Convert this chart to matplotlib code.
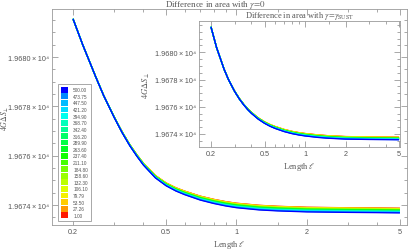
import numpy as np
import matplotlib
matplotlib.use('Agg')
import matplotlib.pyplot as plt
from matplotlib.patches import Patch
from matplotlib.ticker import FixedLocator, FuncFormatter, NullFormatter

# gamma values of the family (legend order: small -> large)
gamma_labels = ["1.00", "27.26", "53.50", "79.79", "106.10", "132.30", "158.60",
                "184.80", "211.10", "237.40", "263.60", "289.90", "316.20",
                "342.40", "368.70", "394.90", "421.20", "447.50", "473.75", "500.00"]
gamma_colors = ["#ff1a00", "#ff9900", "#ffcc00", "#f5f000", "#ddff00", "#bbff00",
                "#99ff00", "#77ff00", "#44ff00", "#11ff00", "#00ff22", "#00ff44",
                "#00ff66", "#00ff99", "#00ffbb", "#00ffee", "#00ddff", "#00bbff",
                "#0088ff", "#0000ff"]
# vertical offset of each curve above the gamma=500 one, at large length
gamma_offset = [0.19, 0.185, 0.175, 0.165, 0.155, 0.145, 0.135, 0.125, 0.115, 0.105,
                0.095, 0.085, 0.075, 0.065, 0.055, 0.045, 0.035, 0.025, 0.012, 0.0]

# length samples
ell = [0.2, 0.22, 0.25, 0.27, 0.3, 0.325, 0.35, 0.375, 0.4, 0.45, 0.5, 0.55, 0.6,
       0.7, 0.8, 0.9, 1.0, 1.25, 1.5, 2.0, 3.0, 4.0, 5.0]
# how far the curves have fanned out (fraction of the full offset)
spread = [0.0, 0.0, 0.03, 0.06, 0.12, 0.18, 0.25, 0.32, 0.4, 0.52, 0.62, 0.7, 0.77,
          0.85, 0.9, 0.94, 0.97, 1.0, 1.0, 1.0, 1.0, 1.0, 1.0]

# gamma = 0 case, lowest (gamma=500) curve
main_base = [19681.55, 19680.50, 19679.20, 19678.45, 19677.55, 19676.92, 19676.40,
             19675.98, 19675.62, 19675.10, 19674.78, 19674.57, 19674.42, 19674.20,
             19674.06, 19673.96, 19673.89, 19673.80, 19673.76, 19673.72, 19673.70,
             19673.69, 19673.68]
# gamma = gamma_SUST case (inset)
inset_base = [19681.87, 19680.36, 19678.77, 19677.99, 19677.12, 19676.57, 19676.14,
              19675.79, 19675.51, 19675.08, 19674.78, 19674.56, 19674.40, 19674.17,
              19674.02, 19673.92, 19673.85, 19673.74, 19673.68, 19673.62, 19673.59,
              19673.58, 19673.57]

xticks = [0.2, 0.5, 1, 2, 5]
xminor = [0.3, 0.4, 0.6, 0.7, 0.8, 0.9, 1.5, 3, 4]
yticks = [19674, 19676, 19678, 19680]

plt.rcParams['font.family'] = ['Liberation Sans', 'DejaVu Sans']
plt.rcParams['mathtext.fontset'] = 'stix'
frame_c = '#9a9a9a'
text_c = '#555555'


def style_axes(ax, xlim, ylim):
    ax.set_xscale('log')
    ax.set_xlim(*xlim)
    ax.set_ylim(*ylim)
    ax.xaxis.set_major_locator(FixedLocator(xticks))
    ax.xaxis.set_minor_locator(FixedLocator(xminor))
    ax.xaxis.set_major_formatter(FuncFormatter(lambda v, p: f"{v:g}"))
    ax.xaxis.set_minor_formatter(NullFormatter())
    ax.yaxis.set_major_locator(FixedLocator(yticks))
    ax.yaxis.set_minor_locator(FixedLocator(np.arange(19673, 19682.5, 0.5)))
    ax.yaxis.set_major_formatter(
        FuncFormatter(lambda v, p: f"{v / 1e4:.4f}\u2009\u00d7\u200910\u2074"))
    ax.tick_params(which='both', direction='in', top=True, right=True,
                   color=frame_c, labelcolor=text_c, labelsize=5.2, width=0.6, pad=2)
    ax.tick_params(which='major', length=4)
    ax.tick_params(which='minor', length=2)
    for s in ax.spines.values():
        s.set_color(frame_c)
        s.set_linewidth(0.6)


def draw_family(ax, base):
    b = np.array(base)
    sp = np.array(spread)
    for off, col in zip(gamma_offset, gamma_colors):
        ax.plot(ell, b + off * sp, color=col, lw=0.9, solid_capstyle='butt')


fig = plt.figure(figsize=(4.09, 2.51), dpi=100)
ax = fig.add_axes([52 / 409, 25 / 251, 355 / 409, 216 / 251])
draw_family(ax, main_base)
style_axes(ax, (0.1626, 5.36), (19673.19, 19681.95))
ax.set_xlabel(r"Length $\ell$", color=text_c, fontsize=6, family='Liberation Serif', labelpad=2)
fig.text(5.5 / 409, 1 - 118 / 251, r"$4G\Delta S_{\perp}$", rotation=90,
         ha='center', va='center', color=text_c, fontsize=5.6)
fig.text(215 / 409, 1 - 5 / 251, r"Difference in area with $\gamma\!=\!0$",
         ha='center', va='center', fontsize=6.4, color=text_c, family='Liberation Serif')

handles = [Patch(facecolor=c, edgecolor='none') for c in gamma_colors][::-1]
leg = ax.legend(handles, gamma_labels[::-1], loc='upper left',
                bbox_to_anchor=(58 / 409, 1 - 85 / 251), bbox_transform=fig.transFigure,
                fontsize=3.4, handlelength=1.6, handleheight=1.5, labelspacing=0.18,
                handletextpad=1.0, borderpad=0.6, borderaxespad=0, fancybox=False,
                framealpha=1, edgecolor=frame_c, labelcolor=text_c)
leg.get_frame().set_linewidth(0.6)

axi = fig.add_axes([199 / 409, 103 / 251, 201 / 409, 126 / 251])
draw_family(axi, inset_base)
style_axes(axi, (0.163, 5.08), (19673.04, 19682.30))
axi.set_xlabel(r"Length $\ell$", color=text_c, fontsize=6, family='Liberation Serif', labelpad=2)
axi.set_ylabel(r"$4G\Delta S_{\perp}$", color=text_c, fontsize=6, labelpad=2)
axi.set_title(r"Difference in area with $\gamma\!=\!\gamma_{\rm SUST}$", color=text_c,
              fontsize=6, family='Liberation Serif', pad=2)

fig.savefig("out.png", dpi=100)
